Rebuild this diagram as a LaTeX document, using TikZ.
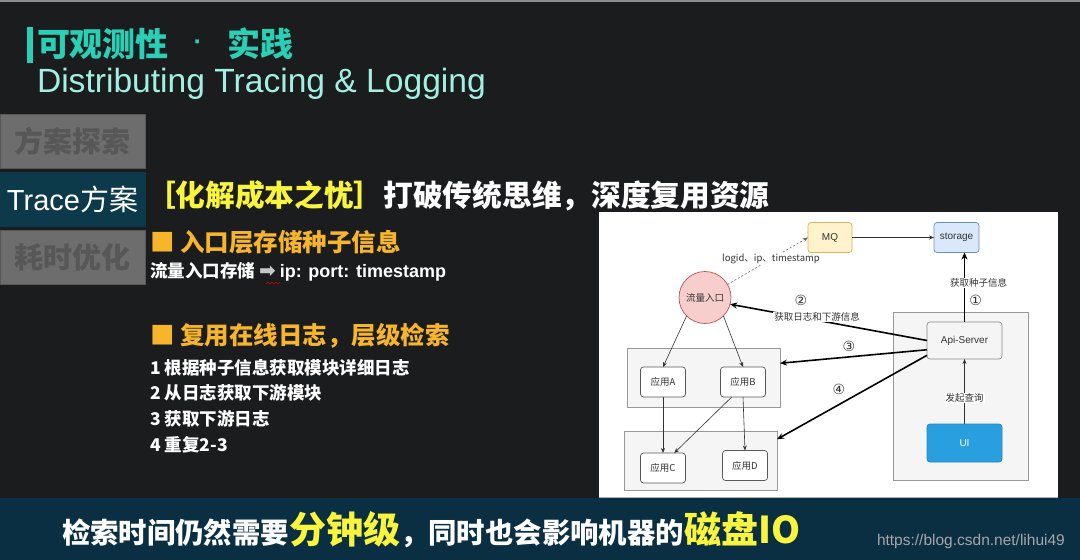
\documentclass[tikz,border=0pt]{standalone}
\usepackage{fontspec}
\setmainfont{Liberation Sans}
\newfontfamily\cjk{Noto Sans CJK SC}
\newfontfamily\dejavu{DejaVu Sans}
\usetikzlibrary{arrows.meta,calc}
\definecolor{bgdark}{HTML}{1B1C1E}
\definecolor{bandblue}{HTML}{0B2F42}
\definecolor{tabgray}{HTML}{6D6D6D}
\definecolor{tabtext}{HTML}{575757}
\definecolor{tabsel}{HTML}{0C3A4B}
\definecolor{tealc}{HTML}{2AD0B6}
\definecolor{tealL}{HTML}{A3F0E3}
\definecolor{hy}{HTML}{F8F53C}
\definecolor{hor}{HTML}{F7B52C}
\definecolor{mqfill}{HTML}{FFF2CC}
\definecolor{mqline}{HTML}{D6B656}
\definecolor{stfill}{HTML}{DAE8FC}
\definecolor{stline}{HTML}{6C8EBF}
\definecolor{cifill}{HTML}{F8CECC}
\definecolor{ciline}{HTML}{B85450}
\definecolor{dtext}{HTML}{333333}
\definecolor{uiblue}{HTML}{2A9FDF}
\tikzset{
  every node/.style={inner sep=0pt, outer sep=0pt},
  tab/.style={minimum width=145, minimum height=54, anchor=north west, fill=tabgray, draw=tabgray!80!black, line width=0.6pt, text=tabtext, font=\cjk\bfseries\fontsize{29}{29}\selectfont},
  dnode/.style={rounded corners=3pt, line width=0.7pt, text=dtext, font=\fontsize{10}{10}\selectfont},
  app/.style={dnode, draw=black!65, fill=white, minimum width=45, minimum height=30, font=\cjk\fontsize{9.5}{9.5}\selectfont},
  grp/.style={draw=black!40, fill=black!4, line width=0.6pt, minimum width=153, minimum height=59},
  lbl/.style={text=dtext, font=\cjk\fontsize{9.5}{9.5}\selectfont},
  num/.style={text=dtext, font=\dejavu\fontsize{14}{14}\selectfont},
  thinarr/.style={draw=dtext, line width=0.6pt, -{Stealth[length=5pt,width=4pt]}},
  thickarr/.style={draw=black, line width=1.6pt, -{Stealth[length=7pt,width=6pt]}},
  bodytxt/.style={anchor=west, text=white, font=\cjk\bfseries\fontsize{17.5}{17.5}\selectfont},
  sect/.style={anchor=west, text=hor, font=\cjk\bfseries\fontsize{24.5}{24.5}\selectfont}
}
\begin{document}
\begin{tikzpicture}[x=1pt,y=-1pt]
\useasboundingbox (0,0) rectangle (1080,560);
\fill[bgdark] (0,0) rectangle (1080,560);
\fill[black!45] (0,0) rectangle (1080,2);
\fill[bandblue] (0,498) rectangle (1080,560);
\fill[white] (599,212) rectangle (1058,498);
\fill[black!30] (599,496.5) rectangle (1058,498);
% title
\fill[tealc] (27,27) rectangle (33,63);
\node[anchor=west, text=tealc, font=\cjk\bfseries\fontsize{33}{33}\selectfont] (t1) at (37,44) {可观测性};
\node[text=tealc, font=\bfseries\fontsize{26}{26}\selectfont] (tdot) at (198,45) {·};
\node[anchor=west, text=tealc, font=\cjk\bfseries\fontsize{33}{33}\selectfont] (t2) at (227,44) {实践};
\node[anchor=west, text=tealL, font=\fontsize{33.6}{33.6}\selectfont] (t3) at (37,84) {Distributing Tracing \& Logging};
% tabs
\node[tab] (tab1) at (0,114) {方案探索};
\node[tab, fill=tabsel, draw=tabsel, text=white, font=\cjk\fontsize{29}{29}\selectfont] (tab2) at (0,172) {{\fontspec{Liberation Sans}Trace}方案};
\node[tab] (tab3) at (0,230) {耗时优化};
% heading
\node[anchor=west, text=white, font=\cjk\bfseries\fontsize{29.7}{29.7}\selectfont] (head) at (146,196) {\textcolor{hy}{［化解成本之忧］}打破传统思维，深度复用资源};
\node[sect] (s1) at (150,242) {■ 入口层存储种子信息};
\node[bodytxt] (l0) at (150,272) {流量入口存储 {\dejavu\fontsize{20}{20}\selectfont\color{black!22}➡} {\fontspec{Liberation Sans}\fontsize{18}{18}\selectfont ip: port: timestamp}};
\draw[red!80!black, line width=0.5pt] (266,284) -- (268,282) -- (270,284) -- (272,282) -- (274,284) -- (276,282) -- (278,284) -- (280,282);
\node[sect] (s2) at (150,336) {■ 复用在线日志，层级检索};
\node[bodytxt] (l1) at (150,368) {1 根据种子信息获取模块详细日志};
\node[bodytxt] (l2) at (150,393) {2 从日志获取下游模块};
\node[bodytxt] (l3) at (150,419) {3 获取下游日志};
\node[bodytxt] (l4) at (150,445) {4 重复2-3};
% bottom
\node[anchor=west, text=white, font=\cjk\bfseries\fontsize{28.4}{28.4}\selectfont] (bot) at (62,530) {检索时间仍然需要{\fontsize{37}{37}\selectfont\color{hy}分钟级}，同时也会影响机器的{\fontsize{37}{37}\selectfont\color{hy}磁盘IO}};
\node[anchor=west, text=black!35, font=\fontsize{15.5}{15.5}\selectfont] (url) at (877,541) {https://blog.csdn.net/lihui49};
% diagram
\node[grp, minimum width=135, minimum height=168] (rbox) at (960.3,396) {};
\node[grp] (g1) at (703.5,378) {};
\node[grp] (g2) at (700.5,460.5) {};
\node[dnode, draw=mqline, fill=mqfill, minimum width=44, minimum height=30] (mq) at (830,237.5) {MQ};
\node[dnode, draw=stline, fill=stfill, minimum width=45, minimum height=30] (storage) at (956.5,237.5) {storage};
\node[circle, draw=ciline, fill=cifill, line width=0.7pt, minimum size=52, text=dtext, font=\cjk\fontsize{9.5}{9.5}\selectfont] (entry) at (705,297.5) {流量入口};
\node[dnode, draw=black!45, fill=black!4, minimum width=75, minimum height=37] (api) at (964.5,340.5) {Api-Server};
\node[dnode, draw=uiblue!85!black, fill=uiblue, text=white, minimum width=75, minimum height=38] (ui) at (964.5,443) {UI};
\node[app] (a) at (663,382) {应用A};
\node[app] (b) at (743,382) {应用B};
\node[app] (c) at (663,468) {应用C};
\node[app] (d) at (745,465.5) {应用D};
% connectors
\draw[thinarr] (mq) -- (storage);
\draw[thinarr, draw=black!60, dashed, dash pattern=on 2pt off 2pt] (entry.30) -- (mq.west);
\node[lbl, fill=white, inner sep=1pt] (lblmq) at (771,259) {logid、ip、timestamp};
\draw[thickarr] (api.north) -- (api.north |- storage.south);
\node[lbl, fill=white, inner sep=1pt] (lbl1) at (978.7,283) {获取种子信息};
\node[num] (n1) at (975.7,300.7) {①};
\draw[thickarr] (api.west) -- (entry.-15);
\node[lbl, fill=white, inner sep=1pt] (lbl2) at (817,317) {获取日志和下游信息};
\node[num] (n2) at (801,300.7) {②};
\coordinate (p3) at ($(api.north west)!0.75!(api.south west)$);
\coordinate (p4) at ($(api.north west)!0.9!(api.south west)$);
\coordinate (e3) at ($(g1.north east)!0.25!(g1.south east)$);
\coordinate (e4) at ($(g2.north east)!0.14!(g2.south east)$);
\draw[thickarr] (p3) -- (e3);
\draw[thickarr] (p4) -- (e4);
\node[num] (n3) at (849,346) {③};
\node[num] (n4) at (839,389) {④};
\draw[thinarr] (ui.north) -- (api.south);
\node[lbl, fill=white, inner sep=1pt] (lblq) at (964.5,398) {发起查询};
\draw[thinarr] (entry.-135) -- (a.north);
\draw[thinarr] (entry.-45) -- (b.north);
\draw[thinarr] (a.south) -- (c.north);
\coordinate (bs) at ($(b.south west)!0.25!(b.south east)$);
\coordinate (cn) at ($(c.north west)!0.75!(c.north east)$);
\draw[thinarr] (bs) -- (cn);
\draw[thinarr] (b.south) -- (d.north);
\end{tikzpicture}
\end{document}
